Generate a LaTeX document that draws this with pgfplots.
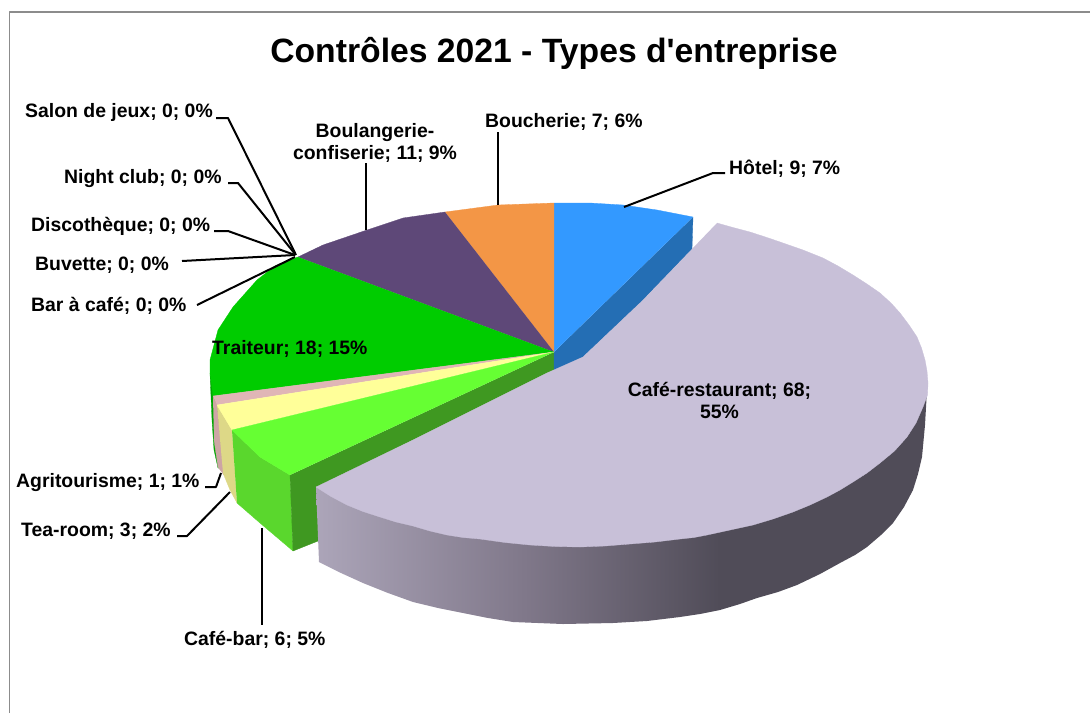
\documentclass[border=0pt]{standalone}
\usepackage{pgfplots}
\pgfplotsset{compat=1.18}
\usepackage{fontspec}
\setmainfont{Liberation Sans}
\definecolor{hotel}{RGB}{51,153,255}
\definecolor{hotelcut}{RGB}{36,110,180}
\definecolor{boucherie}{RGB}{243,150,70}
\definecolor{boulangerie}{RGB}{94,72,120}
\definecolor{traiteur}{RGB}{0,204,0}
\definecolor{traiteurside}{RGB}{0,165,0}
\definecolor{agri}{RGB}{224,182,182}
\definecolor{agriside}{RGB}{205,165,165}
\definecolor{tea}{RGB}{255,255,153}
\definecolor{teaside}{RGB}{221,216,135}
\definecolor{cafebar}{RGB}{102,255,51}
\definecolor{cafebarside}{RGB}{90,215,45}
\definecolor{cafebarcut}{RGB}{63,152,33}
\definecolor{resto}{RGB}{200,192,216}
\definecolor{rimA}{RGB}{172,165,185}
\definecolor{rimB}{RGB}{128,120,138}
\definecolor{rimC}{RGB}{80,76,88}
\definecolor{frame}{RGB}{140,140,140}
% Rim of the large slice: light at its left end, dark from two thirds onward
\pgfdeclarehorizontalshading{rimshade}{100bp}{color(0bp)=(rimA); color(25bp)=(rimA); color(42bp)=(rimB); color(58bp)=(rimC); color(100bp)=(rimC)}
\tikzset{
  lab/.style={font=\fontsize{19.4}{22}\selectfont\bfseries, inner sep=0pt, anchor=west},
  slice/.style={fill=#1, draw=#1, line width=0.3pt},
  leader/.style={black, line width=2pt, line join=round}
}
\begin{document}
\begin{tikzpicture}[x=1pt,y=1pt]
\path[use as bounding box] (0,0) rectangle (1090,713);
\begin{axis}[
  at={(0,0)}, anchor=south west,
  scale only axis, width=1090pt, height=713pt,
  xmin=0, xmax=1090, ymin=0, ymax=713, y dir=reverse,
  hide axis, clip=true,
  every axis plot/.append style={no markers, line join=round}
]
% chart frame
\addplot[frame, line width=1.5pt] coordinates {(9.5,713) (9.5,12) (1090,12)};

% outer walls, back to front
\addplot[slice=traiteurside] coordinates {(210,373) (212,420) (214,450) (218,468) (224,468) (216,396)};
\addplot[slice=agriside] coordinates {(213,397) (217,405) (224,475) (218,467) (214,440)};
\addplot[slice=teaside] coordinates {(217,405) (232,430) (237,503) (230,490) (223,473)};
\addplot[slice=cafebarside] coordinates {(232,430) (260,457) (290,475) (293,551) (260,523) (237,503)};
\addplot[slice=cafebarcut] coordinates {(290,475) (293,551) (318,541) (318,487) (413,440) (547,373) (554,370) (554,352)};
\addplot[slice=hotelcut] coordinates {(693,217) (692,249) (640,303) (583,357) (554,372) (554,352)};

% top faces of the small slices
\addplot[slice=hotel] coordinates {(554,352) (554,203) (590,203) (623,205) (657,210) (693,217)};
\addplot[slice=boucherie] coordinates {(554,352) (445,212) (498,205) (554,203)};
\addplot[slice=boulangerie] coordinates {(554,352) (298,257) (323,245) (367,230) (403,218) (445,212)};
\addplot[slice=traiteur] coordinates {(554,352) (213,396) (210,373) (210,360) (218,330) (233,307) (257,280) (275,266) (298,257)};
\addplot[slice=agri] coordinates {(554,352) (213,396) (217,405)};
\addplot[slice=tea] coordinates {(554,352) (217,405) (232,430)};
\addplot[slice=cafebar] coordinates {(554,352) (232,430) (260,457) (290,475)};

% detached slice: rim, then top
\addplot[draw=none, shade, shading=rimshade] coordinates {
  (316,487) (319,562) (341,573) (363,583) (388,593) (413,602) (438,608) (463,613)
  (488,618) (513,622) (538,623) (563,624) (613,623) (647,621) (680,617) (700,614)
  (720,610) (740,604) (757,598) (778,592) (797,585) (820,574) (840,563) (855,555)
  (867,547) (881,535) (893,523) (904,507) (913,490) (918,474) (922,457) (925,425)
  (927,390) (928,383) (600,400)};
\addplot[slice=resto] coordinates {
  (717,223) (733,227.5) (750,232) (767,237.5) (783,243) (803,250) (823,258) (838,266)
  (853,275) (867,284) (880,293) (891,303) (900,313) (909,325) (917,337) (921.5,348)
  (925,360) (927,371) (928,383) (927.5,395) (923,407) (916,423) (907,437) (894.5,451)
  (880,463) (867,473) (853,482) (840,490) (827,497) (810,505) (793,512) (773,519)
  (753,525) (730,530) (707,535) (694,537.5) (680,539) (655,542) (630,544) (605,546)
  (580,547) (555,546.5) (530,545) (505,542.5) (480,539) (463,537.5) (447,535) (430,531)
  (413,526) (396,522) (380,517) (363,511.5) (347,505) (331,496.5)
  (316,487) (413,440) (547,373) (583,357) (640,303)};

% leader lines
\addplot[leader] coordinates {(216,118) (228,118) (296,255)};
\addplot[leader] coordinates {(228,183) (238,183) (295,254)};
\addplot[leader] coordinates {(214,231) (228,231) (295,255)};
\addplot[leader] coordinates {(182,261) (295,255)};
\addplot[leader] coordinates {(197,305) (295,257)};
\addplot[leader] coordinates {(366,230) (366,163)};
\addplot[leader] coordinates {(498,205) (498,132)};
\addplot[leader] coordinates {(624,207) (713,173) (725,173)};
\addplot[leader] coordinates {(205,487) (216,487) (221,473)};
\addplot[leader] coordinates {(177,536) (187,536) (230,492)};
\addplot[leader, line width=2.6pt] coordinates {(262,528) (262,625)};

% title and slice labels
\node[font=\fontsize{33.7}{40}\selectfont\bfseries, inner sep=0pt] at (axis cs:554,53) {Contrôles 2021 - Types d\textquotesingle entreprise};
\node[lab] at (axis cs:25,112.5) {Salon de jeux; 0; 0\%};
\node[lab] at (axis cs:64,178.5) {Night club; 0; 0\%};
\node[lab] at (axis cs:31,226.5) {Discothèque; 0; 0\%};
\node[lab] at (axis cs:35,265.5) {Buvette; 0; 0\%};
\node[lab] at (axis cs:31,305.5) {Bar à café; 0; 0\%};
\node[lab, anchor=center, align=center] at (axis cs:375,143) {Boulangerie-\\confiserie; 11; 9\%};
\node[lab] at (axis cs:485,121.5) {Boucherie; 7; 6\%};
\node[lab] at (axis cs:729,168.5) {Hôtel; 9; 7\%};
\node[lab] at (axis cs:212,348.5) {Traiteur; 18; 15\%};
\node[lab, anchor=center, align=center] at (axis cs:719.5,400) {Café-restaurant; 68;\\55\%};
\node[lab] at (axis cs:16,482.5) {Agritourisme; 1; 1\%};
\node[lab] at (axis cs:21,531.5) {Tea-room; 3; 2\%};
\node[lab] at (axis cs:184,639.5) {Café-bar; 6; 5\%};
\end{axis}
\end{tikzpicture}
\end{document}
